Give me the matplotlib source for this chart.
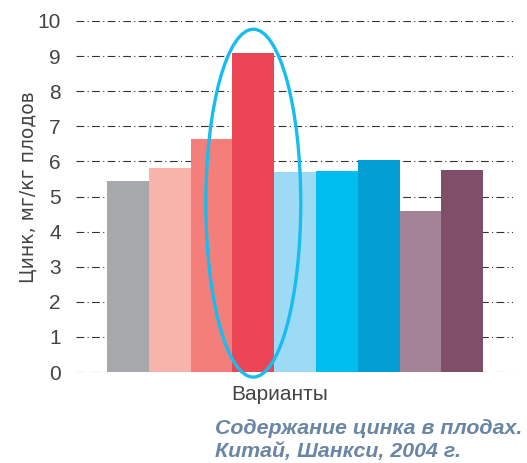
import matplotlib.pyplot as plt
from matplotlib.patches import Ellipse

plt.rcParams["font.family"] = ["Liberation Sans", "DejaVu Sans"]

variants = list(range(9))
zinc = [5.44, 5.82, 6.65, 9.10, 5.70, 5.73, 6.04, 4.59, 5.76]
colors = ["#a7a8ac", "#f7b4aa", "#f47f7a", "#ec4555", "#9ddaf5",
          "#00bdf0", "#009ed3", "#a48396", "#7f4f6a"]
yticks = list(range(0, 11))

fig = plt.figure(figsize=(5.27, 4.63), dpi=100)
ax = fig.add_axes([76 / 527, 1 - 372 / 463, 437 / 527, 351 / 463])

for y in yticks:
    ax.axhline(y, color="#333333", lw=0.8, ls=(0, (7, 3, 1, 3)), zorder=0)

ax.bar(variants, zinc, width=1.0, color=colors, zorder=2)

# highlight the tallest variant
ax.add_patch(Ellipse((3, 4.81), 2.27, 9.91, fill=False, ec="#17bdee",
                     lw=2.4, zorder=3, clip_on=False))

ax.set_xlim(-1.24, 9.21)
ax.set_ylim(0, 10)
ax.set_xticks([])
ax.set_yticks(yticks)
ax.tick_params(axis="y", length=0, pad=11, labelsize=15, labelcolor="#444444")
for s in ax.spines.values():
    s.set_visible(False)

ax.set_ylabel("Цинк, мг/кг плодов", fontsize=13.5, color="#444444",
              family="DejaVu Sans")
ax.yaxis.set_label_coords(-0.087, 0.527)

fig.text(280 / 527, 1 - 394 / 463, "Варианты", ha="center", va="center",
         fontsize=15, color="#444444")
fig.text(215 / 527, 1 - 440 / 463,
         "Содержание цинка в плодах.\nКитай, Шанкси, 2004 г.",
         ha="left", va="center", fontsize=15.4, fontweight="bold",
         style="italic", color="#6b86a4", linespacing=1.28)

fig.savefig("out.png", dpi=100)
